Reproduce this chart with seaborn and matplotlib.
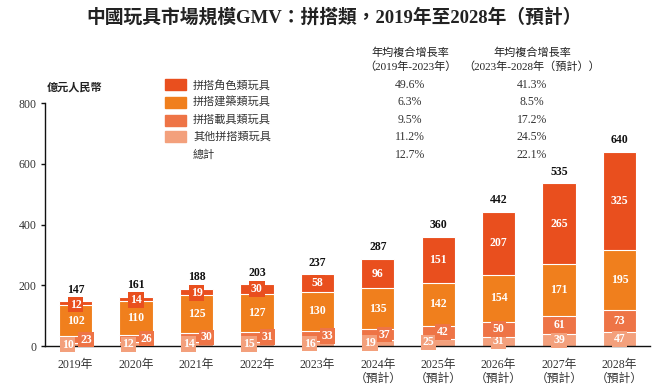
import numpy as np
import pandas as pd
import matplotlib.pyplot as plt
from matplotlib.patches import Rectangle
import seaborn as sns

# data
years = ['2019', '2020', '2021', '2022', '2023', '2024', '2025', '2026', '2027', '2028']
forecast = [False] * 5 + [True] * 5
role = [12, 14, 19, 30, 58, 96, 151, 207, 265, 325]        # 拼搭角色類玩具
build = [102, 110, 125, 127, 130, 135, 142, 154, 171, 195]   # 拼搭建築類玩具
vehicle = [23, 26, 30, 31, 33, 37, 42, 50, 61, 73]           # 拼搭載具類玩具
other = [10, 12, 14, 15, 16, 19, 25, 31, 39, 47]             # 其他拼搭類玩具
totals = [147, 161, 188, 203, 237, 287, 360, 442, 535, 640]

series_names = ['拼搭角色類玩具', '拼搭建築類玩具', '拼搭載具類玩具', '其他拼搭類玩具']
cagr_1923 = ['49.6%', '6.3%', '9.5%', '11.2%', '12.7%']
cagr_2328 = ['41.3%', '8.5%', '17.2%', '24.5%', '22.1%']

colors = ['#E94F1E', '#F07F1D', '#EE7446', '#F3A07C']

sns.set_theme(style='white')
FAM = ['Liberation Serif', 'Noto Sans CJK TC']
plt.rcParams['font.family'] = FAM

labels = [y + '年' + ('\n（預計）' if f else '') for y, f in zip(years, forecast)]
df = pd.DataFrame({'year': labels, 'role': role, 'build': build,
                   'vehicle': vehicle, 'other': other})
df['c_other'] = df['other']
df['c_vehicle'] = df['c_other'] + df['vehicle']
df['c_build'] = df['c_vehicle'] + df['build']
df['c_role'] = df['c_build'] + df['role']

fig = plt.figure(figsize=(6.69, 3.85), dpi=100)
ax = fig.add_axes([0.067, 0.101, 0.905, 0.631])

# cumulative bars drawn from the top layer down
for col, c in zip(['c_role', 'c_build', 'c_vehicle', 'c_other'], colors):
    sns.barplot(data=df, x='year', y=col, color=c, width=0.55, ax=ax,
                edgecolor='white', linewidth=0.8, saturation=1)

ax.set_xlim(-0.51, 9.51)
ax.set_ylim(0, 800)
ax.set_yticks([0, 200, 400, 600, 800])
ax.set_xlabel('')
ax.set_ylabel('')
for s in ['top', 'right']:
    ax.spines[s].set_visible(False)
for s in ['left', 'bottom']:
    ax.spines[s].set_color('#111111')
    ax.spines[s].set_linewidth(1.0)
ax.tick_params(axis='y', left=True, length=3, width=1, color='#111111',
               labelsize=8.5, labelcolor='#333333', pad=3)
ax.tick_params(axis='x', bottom=False, labelsize=8.5, labelcolor='#333333', pad=3)
for t in ax.get_xticklabels():
    t.set_linespacing(1.25)

# label offsets (bar units) for the small bottom segments
other_dx = [-0.13] * 5 + [-0.13, -0.16, 0, 0, 0]
veh_dx = [0.17] * 5 + [0.11, 0.08, 0, 0, 0]

lab_kw = dict(ha='center', va='center', color='white', fontsize=8.5,
              fontweight='bold', zorder=5)
for i in range(len(years)):
    role_y = df['c_role'][i] - role[i] / 2
    if role[i] < 25:
        role_y -= 4
    segs = [
        (other[i], df['c_other'][i] - other[i] / 2, other_dx[i], colors[3]),
        (vehicle[i], df['c_vehicle'][i] - vehicle[i] / 2, veh_dx[i], colors[2]),
        (build[i], df['c_build'][i] - build[i] / 2, 0, colors[1]),
        (role[i], role_y, 0, colors[0]),
    ]
    for v, y, dx, c in segs:
        ax.text(i + dx, y, str(v),
                bbox=dict(boxstyle='square,pad=0.15', fc=c, ec='none'), **lab_kw)
    ax.annotate(str(totals[i]), (i, df['c_role'][i]), xytext=(0, 4),
                textcoords='offset points', ha='center', va='bottom',
                fontsize=8.5, fontweight='bold', color='#111111')

# title
fig.text(0.5, 0.955, '中國玩具市場規模GMV：拼搭類，2019年至2028年（預計）',
         ha='center', va='center', fontsize=13.5, fontweight='bold', color='#222222')

# unit
fig.text(47 / 669, 1 - 87 / 385, '億元人民幣', ha='left', va='center',
         fontsize=8, fontweight='bold', color='#222222', family='Noto Sans CJK TC')

# legend + CAGR table
row_y = [85, 102, 120, 137, 155]
for k in range(5):
    yf = 1 - row_y[k] / 385
    if k < 4:
        fig.patches.append(Rectangle((165 / 669, yf - 5.5 / 385), 21 / 669, 11 / 385,
                                     transform=fig.transFigure, color=colors[k]))
        name = series_names[k]
    else:
        name = '總計'
    fig.text(193 / 669, yf, name, ha='left', va='center', fontsize=8,
             color='#333333')
    fig.text(410 / 669, yf, cagr_1923[k], ha='center', va='center', fontsize=8.5,
             color='#333333')
    fig.text(532 / 669, yf, cagr_2328[k], ha='center', va='center', fontsize=8.5,
             color='#333333')

fig.text(410 / 669, 1 - 53 / 385, '年均複合增長率', ha='center', va='center',
         fontsize=8, color='#222222')
fig.text(410 / 669, 1 - 67 / 385, '（2019年-2023年）', ha='center', va='center',
         fontsize=8, color='#222222')
fig.text(532 / 669, 1 - 53 / 385, '年均複合增長率', ha='center', va='center',
         fontsize=8, color='#222222')
fig.text(532 / 669, 1 - 67 / 385, '（2023年-2028年（預計））', ha='center', va='center',
         fontsize=8, color='#222222')

fig.savefig('out.png', dpi=100)
